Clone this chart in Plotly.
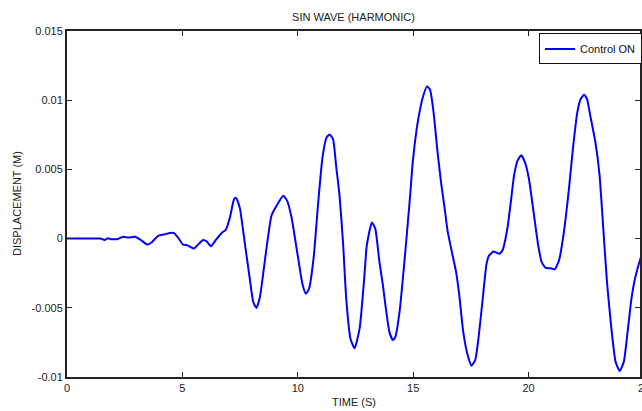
import plotly.graph_objects as go

# Time (s) and displacement (m)
time_s = [0, 0.8, 1.45, 1.55, 1.65, 1.72, 1.8, 1.9, 2.0, 2.2, 2.44, 2.55, 2.66, 2.8, 2.96,
          3.2, 3.48, 3.65, 3.95, 4.2, 4.47, 4.64, 4.8, 5.03, 5.2, 5.35, 5.5, 5.7, 5.9, 6.05,
          6.24, 6.45, 6.7, 6.88, 7.06, 7.24, 7.32, 7.42, 7.5, 7.71, 7.93, 8.07, 8.21, 8.36,
          8.65, 8.86, 9.08, 9.37, 9.54, 9.73, 10.01, 10.2, 10.35, 10.49, 10.69, 10.88, 11.07,
          11.24, 11.38, 11.53, 11.67, 11.81, 11.96, 12.1, 12.28, 12.46, 12.68, 12.89, 12.99,
          13.21, 13.36, 13.54, 13.69, 13.8, 13.97, 14.12, 14.23, 14.41, 14.62, 14.77, 14.88,
          14.98, 15.15, 15.27, 15.41, 15.6, 15.73, 15.87, 16.06, 16.21, 16.35, 16.49, 16.71,
          16.86, 17.0, 17.17, 17.36, 17.53, 17.69, 17.83, 18.0, 18.18, 18.29, 18.37, 18.47,
          18.6, 18.73, 18.87, 19.08, 19.23, 19.37, 19.52, 19.68, 19.85, 20.02, 20.24, 20.42,
          20.57, 20.74, 20.96, 21.13, 21.32, 21.53, 21.75, 21.92, 22.11, 22.25, 22.41, 22.54,
          22.68, 22.9, 23.08, 23.23, 23.4, 23.59, 23.77, 23.95, 24.13, 24.31, 24.46, 24.63,
          24.85, 25.0]
displacement_m = [0, 0, 0, -0.00005, -0.0001, -0.00002, 0.00002, -0.00005, -0.00005, -0.00003,
                  0.00014, 0.0001, 0.00008, 0.0001, 0.00014, -0.0001, -0.00043, -0.0003, 0.0002,
                  0.0003, 0.00041, 0.0004, 0.0001, -0.00043, -0.00048, -0.0006, -0.00072, -0.0004,
                  -0.0001, -0.0002, -0.00055, -0.0001, 0.00041, 0.00063, 0.00153, 0.00285, 0.00295,
                  0.0026, 0.00213, -0.00038, -0.00302, -0.00458, -0.00501, -0.00422, -0.00063,
                  0.00165, 0.00237, 0.00309, 0.00273, 0.00153, -0.00134, -0.00326, -0.00398,
                  -0.00362, -0.00134, 0.0025, 0.00585, 0.00728, 0.00753, 0.00717, 0.00513, 0.0031,
                  -0.00026, -0.00434, -0.00721, -0.00793, -0.00649, -0.00266, -0.0005, 0.00117,
                  0.0007, -0.0017, -0.00338, -0.00482, -0.00674, -0.00733, -0.0071, -0.0053,
                  -0.0017, 0.00117, 0.00333, 0.00549, 0.00789, 0.00908, 0.01016, 0.011, 0.01077,
                  0.00933, 0.0062, 0.00405, 0.00237, 0.00058, -0.00122, -0.00242, -0.0041,
                  -0.00674, -0.00841, -0.00918, -0.00877, -0.00721, -0.00458, -0.00182, -0.00122,
                  -0.0011, -0.00093, -0.001, -0.0011, -0.00086, 0.0007, 0.00261, 0.00453, 0.00561,
                  0.00602, 0.00549, 0.00429, 0.00165, -0.0005, -0.0017, -0.00211, -0.00214,
                  -0.00223, -0.00158, 0.00045, 0.00357, 0.00645, 0.00908, 0.01005, 0.0104, 0.01005,
                  0.00885, 0.00693, 0.00453, 0.00094, -0.00314, -0.00649, -0.00889, -0.00957,
                  -0.00889, -0.00649, -0.00434, -0.00278, -0.00146, -0.0008]

x_ticks = [0, 5, 10, 15, 20]
x_tick_labels = ["0", "5", "10", "15", "20"]
y_ticks = [-0.01, -0.005, 0, 0.005, 0.01, 0.015]
y_tick_labels = ["-0.01", "-0.005", "0", "0.005", "0.01", "0.015"]

FONT = "Liberation Sans, Arial, sans-serif"
AX = "#222222"
X_MAX = 24.83

fig = go.Figure()
fig.add_trace(go.Scatter(
    x=time_s, y=displacement_m, mode="lines", name="Control ON",
    line=dict(color="#0000ff", width=2, shape="spline", smoothing=0.5),
))

axis_common = dict(
    showgrid=False, zeroline=False, showline=True, linewidth=2, linecolor=AX,
    mirror="ticks", ticks="inside", ticklen=5, tickwidth=1, tickcolor=AX,
    tickfont=dict(family=FONT, size=11, color="#222222"),
)

fig.update_layout(
    width=642, height=411,
    margin=dict(l=67, r=0, t=31, b=34),
    paper_bgcolor="white", plot_bgcolor="white",
    font=dict(family=FONT, size=11, color="#222222"),
    title=dict(text="SIN WAVE (HARMONIC)", x=0.5, xref="paper", xanchor="center",
               y=1 - 17 / 411, yref="container", yanchor="middle",
               font=dict(family=FONT, size=11, color="#222222")),
    xaxis=dict(range=[0, X_MAX], tickvals=x_ticks, ticktext=x_tick_labels, **axis_common),
    yaxis=dict(range=[-0.01, 0.015], tickvals=y_ticks, ticktext=y_tick_labels, **axis_common),
    showlegend=True,
    legend=dict(x=1.004, xanchor="right", y=0.993, yanchor="top",
                bgcolor="white", bordercolor="#111111", borderwidth=1,
                tracegroupgap=0, itemwidth=30,
                font=dict(family=FONT, size=11, color="#111111")),
    annotations=[
        dict(text="25", xref="paper", yref="paper", x=25 / X_MAX, y=0, xanchor="center",
             yanchor="top", yshift=-3, showarrow=False,
             font=dict(family=FONT, size=11, color="#222222")),
        dict(text="TIME (S)", xref="paper", yref="paper", x=0.5, y=0, xanchor="center",
             yanchor="middle", yshift=-25, showarrow=False,
             font=dict(family=FONT, size=11, color="#222222")),
        dict(text="DISPLACEMENT (M)", xref="paper", yref="paper", x=0, y=0.5,
             xanchor="center", yanchor="middle", xshift=-50, textangle=-90, showarrow=False,
             font=dict(family=FONT, size=11, color="#222222")),
    ],
)

fig.write_html("out.html")
